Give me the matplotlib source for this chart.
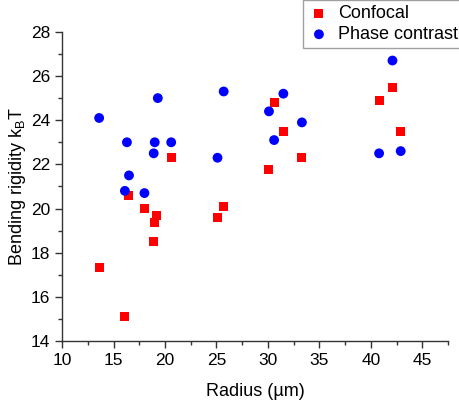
import matplotlib
matplotlib.use('Agg')
import matplotlib.pyplot as plt
from matplotlib.ticker import MultipleLocator

plt.rcParams['font.family'] = ['Liberation Sans', 'DejaVu Sans']
plt.rcParams['mathtext.fontset'] = 'custom'
plt.rcParams['mathtext.rm'] = 'Liberation Sans'
plt.rcParams['mathtext.default'] = 'regular'

# Confocal (red squares)
conf_r = [13.6, 16.1, 16.5, 18.0, 19.2, 19.0, 18.9, 20.6, 25.1, 25.7,
          30.1, 30.6, 31.5, 33.3, 40.8, 42.1, 42.9]
conf_k = [17.35, 15.1, 20.6, 20.0, 19.7, 19.35, 18.5, 22.3, 19.6, 20.1,
          21.75, 24.8, 23.5, 22.3, 24.9, 25.5, 23.5]

# Phase contrast (blue circles)
phase_r = [13.6, 16.3, 16.1, 16.5, 18.0, 18.9, 19.0, 19.3, 20.6, 25.1, 25.7,
           30.1, 30.6, 31.5, 33.3, 40.8, 42.1, 42.9]
phase_k = [24.1, 23.0, 20.8, 21.5, 20.7, 22.5, 23.0, 25.0, 23.0, 22.3, 25.3,
           24.4, 23.1, 25.2, 23.9, 22.5, 26.7, 22.6]

fig = plt.figure(figsize=(4.6, 4.08), dpi=100)
ax = fig.add_axes([0.135, 0.164, 0.839, 0.758])

ax.scatter(conf_r, conf_k, marker='s', s=42, color='#ff0000', edgecolors='none',
           label='Confocal', zorder=3)
ax.scatter(phase_r, phase_k, marker='o', s=50, color='#0000ff', edgecolors='none',
           label='Phase contrast', zorder=3)

ax.set_xlim(10, 47.5)
ax.set_ylim(14, 28)
ax.xaxis.set_major_locator(MultipleLocator(5))
ax.xaxis.set_minor_locator(MultipleLocator(2.5))
ax.yaxis.set_major_locator(MultipleLocator(2))
ax.yaxis.set_minor_locator(MultipleLocator(1))
ax.spines['top'].set_visible(False)
ax.spines['right'].set_visible(False)
for s in ['left', 'bottom']:
    ax.spines[s].set_color('#333333')
    ax.spines[s].set_linewidth(1.0)
ax.tick_params(which='major', direction='out', length=5, width=1, labelsize=12.5, color='#333333')
ax.tick_params(which='minor', direction='out', length=3, width=1, color='#333333')

ax.set_xlabel('Radius (µm)', fontsize=13, labelpad=11)
ax.set_ylabel(r'Bending rigidity k$_{B}$T', fontsize=13, labelpad=2)

leg = fig.legend(loc='upper left', bbox_to_anchor=(0.658, 1.0), fontsize=13,
                 frameon=True, fancybox=False, edgecolor='#888888',
                 handletextpad=0.45, borderpad=0.3, labelspacing=0.2,
                 handlelength=1.2, borderaxespad=0)
leg.get_frame().set_linewidth(1.0)

fig.savefig('out.png', dpi=100)
